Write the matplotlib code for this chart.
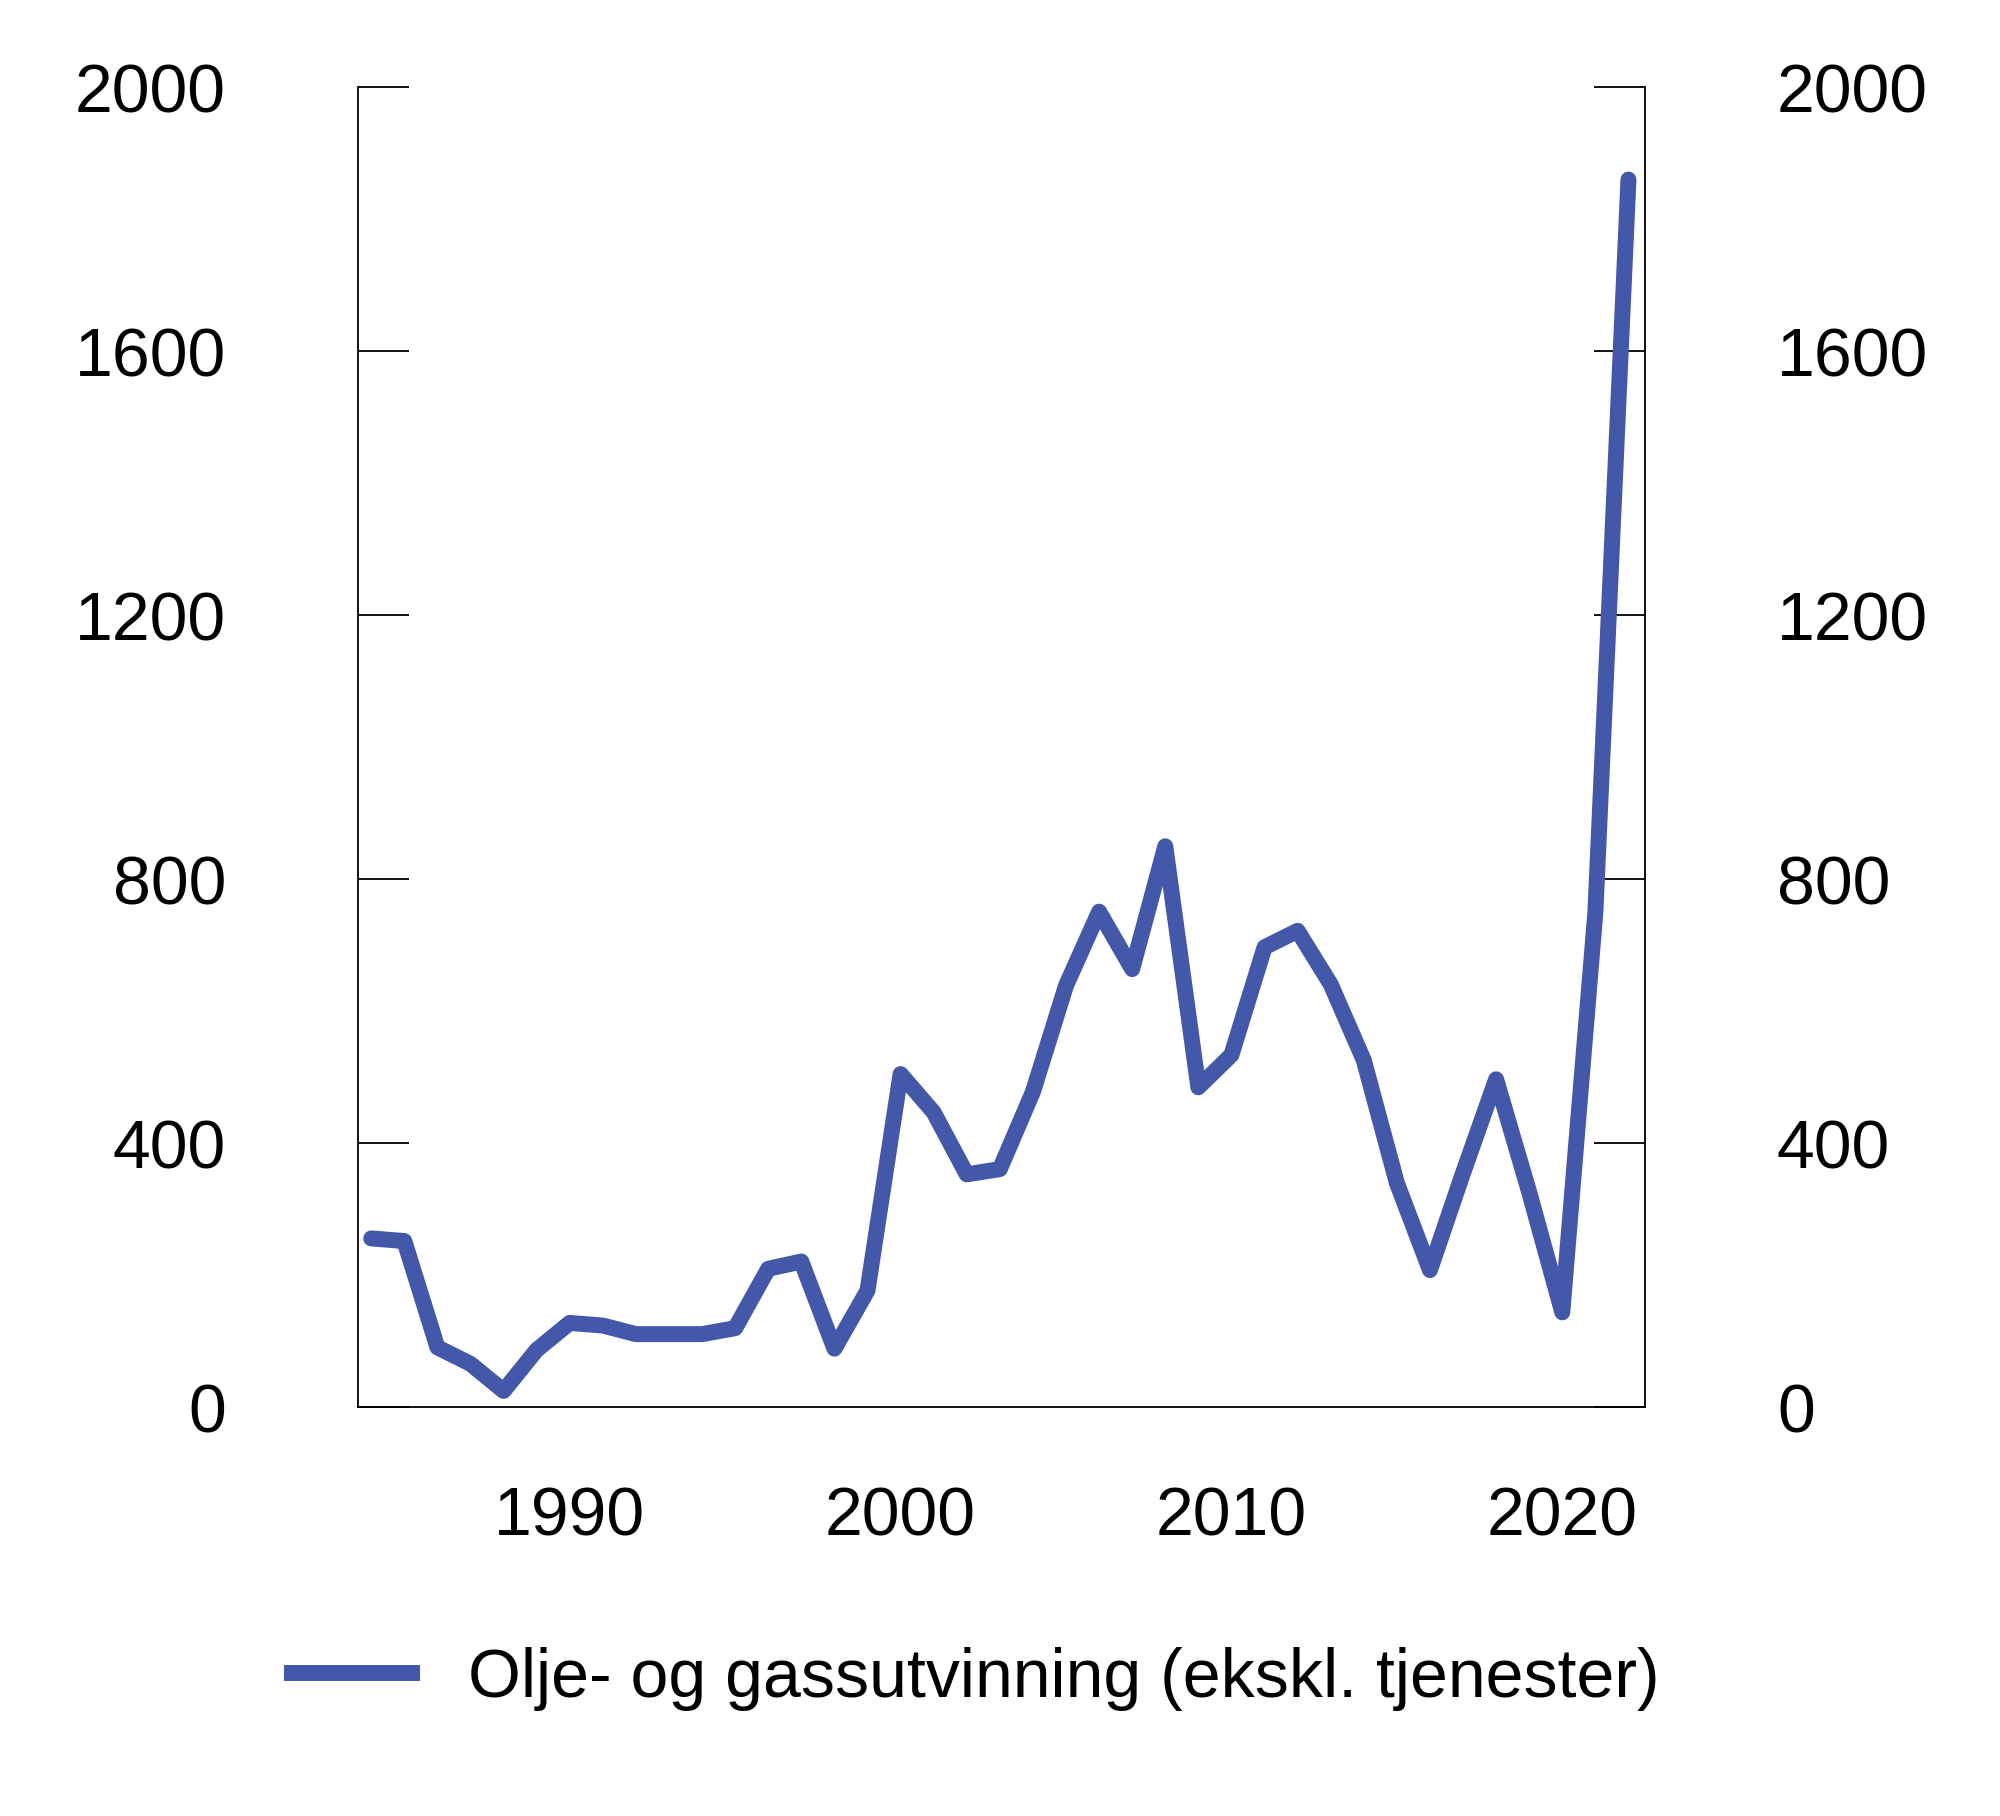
import numpy as np
import matplotlib.pyplot as plt

plt.rcParams['font.family'] = ['Liberation Sans', 'DejaVu Sans']

# Data
years = list(range(1984, 2023))
values = [256, 252, 91, 66, 25, 87, 128, 124, 111, 111,
          111, 120, 210, 221, 89, 177, 505, 447, 353, 361,
          478, 639, 751, 664, 850, 485, 534, 697, 722, 641,
          526, 340, 208, 355, 497, 326, 144, 750, 1860]
y_ticks = [0, 400, 800, 1200, 1600, 2000]
x_ticks = [1990, 2000, 2010, 2020]
label = 'Olje- og gassutvinning (ekskl. tjenester)'

line_color = '#4358a8'

fig = plt.figure(figsize=(20, 18.16), dpi=100)
ax = fig.add_axes([0.179, 0.225, 0.6435, 0.727])

ax.plot(years, values, color=line_color, linewidth=11.5,
        solid_joinstyle='round', solid_capstyle='round', label=label)

ax.set_xlim(1983.6, 2022.5)
ax.set_ylim(0, 2000)
ax.set_yticks(y_ticks)
ax.set_xticks(x_ticks)

ax.spines['top'].set_visible(False)
for s in ['left', 'right', 'bottom']:
    ax.spines[s].set_linewidth(1.3)

ax.tick_params(axis='y', which='both', direction='in', length=37, width=1.3,
               labelsize=49, pad=95, left=True, right=True,
               labelleft=True, labelright=True)
ax.tick_params(axis='x', length=0, labelsize=49, pad=56)

leg = fig.legend(loc='center', bbox_to_anchor=(0.486, 0.0755), frameon=False,
                 fontsize=49, handlelength=2.0, handletextpad=0.7)
for h in leg.get_lines():
    h.set_solid_capstyle('butt')

fig.savefig('out.png', dpi=100)
